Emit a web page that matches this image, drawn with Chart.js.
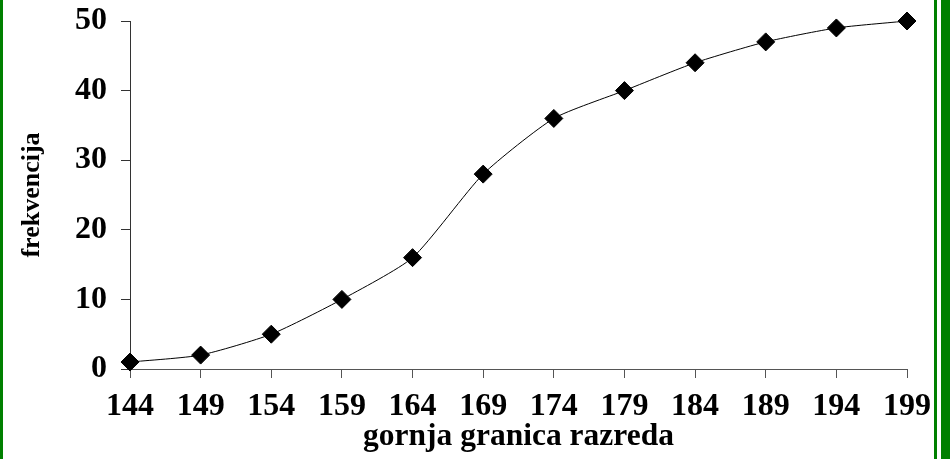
<!DOCTYPE html>
<html>
<head>
<meta charset="utf-8">
<script src="https://cdn.jsdelivr.net/npm/chart.js@4"></script>
<style>
  html, body { margin: 0; padding: 0; background: #fff; }
  #wrap { position: relative; width: 952px; height: 459px; }
  #wrap canvas { position: absolute; left: 0; top: 0; }
  .edge { position: absolute; top: 0; height: 459px; background: #008000; }
</style>
</head>
<body>
<div id="wrap">
  <canvas id="cumChart" width="952" height="459"></canvas>
  <div class="edge" style="left:0; width:3px;"></div>
  <div class="edge" style="left:934px; width:3px;"></div>
  <div class="edge" style="left:941px; width:9px;"></div>
</div>
<script>
// gornja granica razreda -> kumulativna frekvencija
const granice = ['144', '149', '154', '159', '164', '169', '174', '179', '184', '189', '194', '199'];
const frekvencije = [1, 2, 5, 10, 16, 28, 36, 40, 44, 47, 49, 50];
const yTicks = [0, 10, 20, 30, 40, 50];

const serif = 'Liberation Serif, Times New Roman, serif';

const ctx = document.getElementById('cumChart').getContext('2d');
new Chart(ctx, {
    type: 'line',
    data: {
        labels: granice,
        datasets: [{
            data: frekvencije,
            borderColor: '#000',
            borderWidth: 1,
            tension: 0.2,
            fill: false,
            clip: false,
            pointStyle: 'rectRot',
            pointRadius: 9,
            pointBackgroundColor: '#000',
            pointBorderColor: '#000',
            pointBorderWidth: 1
        }]
    },
    options: {
        responsive: false,
        animation: false,
        layout: { padding: { top: 21, right: 45, left: 0, bottom: 0 } },
        plugins: {
            legend: { display: false },
            tooltip: { enabled: false }
        },
        scales: {
            x: {
                type: 'category',
                offset: false,
                afterFit: s => { s.height = 90; },
                grid: {
                    offset: false,
                    drawOnChartArea: false,
                    drawTicks: true,
                    tickLength: 9,
                    color: '#555'
                },
                border: { display: true, color: '#555', width: 1 },
                ticks: {
                    color: '#000',
                    padding: 10,
                    maxRotation: 0,
                    autoSkip: false,
                    font: { family: serif, size: 32, weight: 'bold' }
                },
                title: {
                    display: true,
                    text: 'gornja granica razreda',
                    color: '#000',
                    padding: { top: 0, bottom: 3 },
                    font: { family: serif, size: 31.5, weight: 'bold' }
                }
            },
            y: {
                min: 0,
                max: 50,
                afterFit: s => {
                    s.width = 130;
                    // label half-heights should not push the plot area down
                    s.paddingTop = 0;
                    s.paddingBottom = 0;
                },
                afterBuildTicks: s => { s.ticks = yTicks.map(v => ({ value: v })); },
                grid: {
                    drawOnChartArea: false,
                    drawTicks: true,
                    tickLength: 9,
                    color: '#333'
                },
                border: { display: true, color: '#333', width: 1 },
                ticks: {
                    color: '#000',
                    padding: 14,
                    font: { family: serif, size: 32, weight: 'bold' }
                },
                title: {
                    display: true,
                    text: 'frekvencija',
                    color: '#000',
                    padding: { top: 17, bottom: 0 },
                    font: { family: serif, size: 26, weight: 'bold' }
                }
            }
        }
    }
});
</script>
</body>
</html>
